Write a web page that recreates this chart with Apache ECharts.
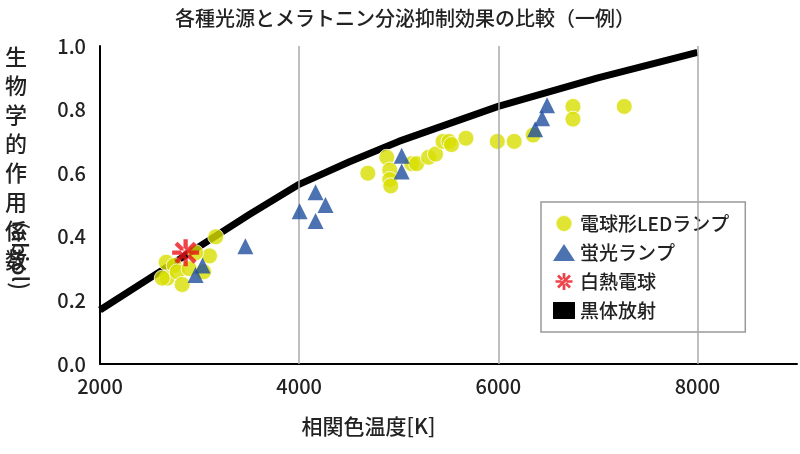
<!DOCTYPE html>
<html><head><meta charset="utf-8">
<script src="https://cdn.jsdelivr.net/npm/echarts@6/dist/echarts.min.js"></script>
<style>html,body{margin:0;background:#fff}#c{width:800px;height:454px}</style>
</head><body><div id="c"></div>
<script>
var ledData = [[3162,0.40],[3100,0.34],[2665,0.32],[2745,0.31],[2675,0.27],[2775,0.29],[2825,0.25],
  [2960,0.35],[2895,0.30],[3040,0.29],[2625,0.27],
  [4690,0.60],[4880,0.65],[4910,0.61],[4910,0.58],[4920,0.56],[5130,0.63],[5180,0.63],[5300,0.65],
  [5370,0.66],[5445,0.70],[5505,0.70],[5530,0.69],[5675,0.71],[5990,0.70],[6160,0.70],[6350,0.72],
  [6750,0.81],[6750,0.77],[7265,0.81]];
var flData = [[3030,0.31],[2960,0.28],[3460,0.37],[4005,0.48],[4165,0.54],[4165,0.45],[4265,0.50],
  [5030,0.655],[5030,0.605],[6370,0.738],[6440,0.773],[6490,0.814]];
var incData = [[2860,0.35]];
var bbData = [[2000,0.17],[2500,0.27],[3000,0.37],[3500,0.47],[4000,0.565],[4500,0.635],[5000,0.70],
  [5500,0.755],[6000,0.81],[6500,0.855],[7000,0.90],[7500,0.94],[8000,0.98]];
var names = ['電球形LEDランプ', '蛍光ランプ', '白熱電球', '黒体放射'];

var font = '"Noto Sans CJK JP", sans-serif';
var star = 'path://M-1.6,-10h3.2v20h-3.2z M-10,-1.6h20v3.2h-20z M5.94,8.2L8.2,5.94L-5.94,-8.2L-8.2,-5.94z M-5.94,8.2L-8.2,5.94L5.94,-8.2L8.2,-5.94z';
var chart = echarts.init(document.getElementById('c'));
chart.setOption({
  animation: false,
  textStyle: {fontFamily: font},
  title: {text: '各種光源とメラトニン分泌抑制効果の比較（一例）', left: 400, textAlign: 'center', top: 3,
    textStyle: {fontFamily: font, fontSize: 20, fontWeight: 500, color: '#222'}},
  grid: {left: 100, right: -5, top: 46, bottom: 90},
  xAxis: {type: 'value', min: 2000, max: 9000, interval: 1000,
    name: '相関色温度[K]', nameLocation: 'middle', nameGap: 52,
    nameTextStyle: {fontSize: 21, fontWeight: 500, color: '#222', padding: [0, 160, 0, 0]},
    axisLine: {lineStyle: {color: '#000', width: 2}}, axisTick: {show: false},
    axisLabel: {fontSize: 20, fontWeight: 500, color: '#222', margin: 12, formatter: function (v) { return v % 2000 === 0 && v < 9000 ? v : ''; }},
    splitLine: {show: false}
  },
  yAxis: {type: 'value', min: 0, max: 1, interval: 0.2,
    axisLine: {show: true, lineStyle: {color: '#000', width: 2}}, axisTick: {show: false},
    axisLabel: {fontSize: 20, fontWeight: 500, color: '#222', margin: 14, formatter: function (v) { return v.toFixed(1); }},
    splitLine: {show: false}
  },
  legend: {orient: 'vertical', left: 541, top: 202, padding: [12, 16, 12, 12], itemGap: 10,
    backgroundColor: '#fff', borderColor: '#999', borderWidth: 1.5,
    itemWidth: 22, itemHeight: 17,
    textStyle: {fontSize: 19, fontWeight: 500, color: '#222', fontFamily: font},
    data: [
      {name: names[0], icon: 'circle'},
      {name: names[1], icon: 'triangle'},
      {name: names[2], icon: star},
      {name: names[3], icon: 'rect', itemStyle: {color: '#000'}}
    ]},
  graphic: [
    {type: 'text', left: 5, top: 42, style: {text: '生\n物\n学\n的\n作\n用\n係\n数', font: '500 22px ' + font, lineHeight: 29, fill: '#222'}},
    {type: 'text', x: 31, y: 290, rotation: -Math.PI / 2, style: {text: '(abiol)', font: '500 22px ' + font, fill: '#222', align: 'right', verticalAlign: 'top'}}
  ],
  series: [
    {name: names[3], type: 'line', data: bbData, symbol: 'none', smooth: false, z: 3,
      lineStyle: {color: '#000', width: 7}, itemStyle: {color: '#000'}},
    {name: names[0], type: 'scatter', data: ledData, symbol: 'circle', symbolSize: 16, z: 4,
      itemStyle: {color: '#d8df00', borderColor: '#fff', borderWidth: 1}},
    {name: names[1], type: 'scatter', data: flData, symbol: 'triangle', symbolSize: 16, z: 5,
      itemStyle: {color: '#1f4f9e'}},
    {name: names[2], type: 'scatter', data: incData, symbol: star, symbolSize: 27, z: 6,
      itemStyle: {color: '#e8141b'}},
    {type: 'line', data: [], silent: true, z: 1,
      markLine: {silent: true, symbol: 'none', label: {show: false}, lineStyle: {color: '#aaa', width: 1.5, type: 'solid'},
        data: [{xAxis: 4000}, {xAxis: 6000}, {xAxis: 8000}]}}
  ]
});
</script></body></html>
